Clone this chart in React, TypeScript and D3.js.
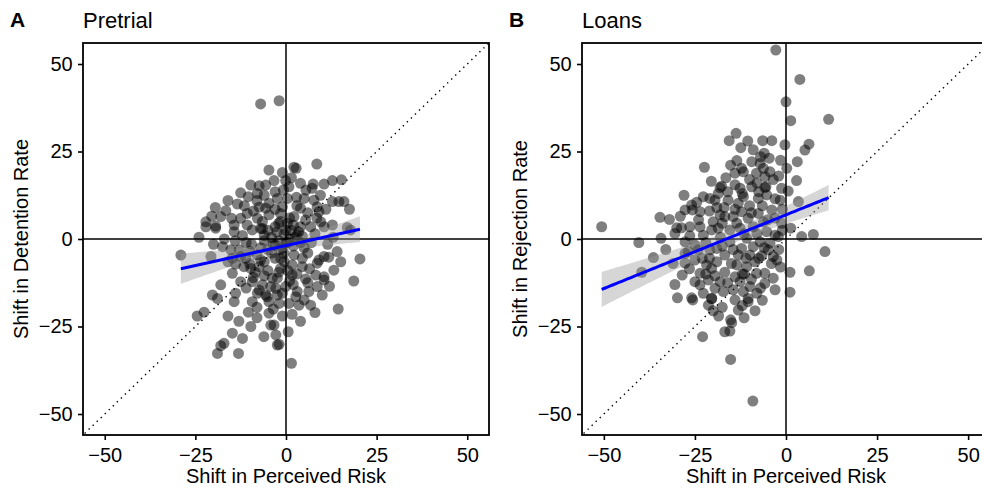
import React, { useEffect, useRef } from "react";
import * as d3 from "d3";

// shift in perceived risk (x) vs shift in decision rate (y)
const pretrialPoints: [number, number][] = [
  [-7.0, 38.6], [-1.9, 39.5],
  [-4.7, 19.7], [-3.3, 16.7], [-9.7, 15.4], [-7.4, 15.2], [-5.6, 15.4],
  [-12.5, 13.2], [-10.4, 12.1], [-7.9, 13.0], [-13.4, 10.0], [-16.6, 8.1], [-18.0, 6.4],
  [-22.1, 4.9], [-19.4, 3.7], [-15.0, 5.9], [-10.7, 7.3], [-12.5, 5.9], [-7.4, 9.1],
  [-4.7, 10.2], [-2.4, 11.6], [-5.6, 8.8], [-4.7, 6.9], [-7.9, 5.9], [-14.3, 4.0], [-10.7, 4.0],
  [-7, 3], [-5, 2.5], [-3, 3.5], [-6, 1], [-4, 0.5],
  [8.5, 21.4], [2.2, 20.5], [2.8, 20.2], [-0.1, 16.7], [4.0, 15.9], [0.8, 14.9], [7.5, 15.7],
  [10.5, 15.7], [12.8, 16.7], [15.3, 16.9], [7.2, 14.5], [-0.7, 14.0], [0.4, 11.6], [2.9, 11.9],
  [5.0, 11.6], [7.7, 11.1], [12.8, 10.7], [14.6, 10.7], [16.0, 10.7], [8.6, 9.2], [-1.0, 9.2],
  [4.0, 8.8], [9.1, 7.8], [-1.5, 7.3], [2.2, 6.4], [5.4, 5.4], [9.6, 4.9], [12.8, 4.0],
  [16.9, 3.3], [10.5, 3.5], [6.8, 3.5], [0.4, 4.5],
  [-1.5, 5], [1.5, 2.5], [-0.5, 1.5], [2.5, 0.5], [-2.5, 2.0], [0.5, -1], [3.5, 2.0],
  [-1, -2.5], [4.5, 0.8], [-3.5, -1.5],
  [-29.0, -4.6], [-20.7, -5.0], [-17.5, -2.2], [-15.2, -3.1], [-12.9, -3.1], [-14.8, -5.5],
  [-11.1, -5.5], [-13.9, -7.2], [-11.6, -7.9], [-9.7, -8.4], [-7.4, -7.9], [-14.8, -9.8],
  [-12.5, -12.2], [-9.3, -12.2], [-18.0, -13.1], [-13.9, -15.5], [-7.9, -15.5], [-5.2, -16.5],
  [-20.3, -16.0], [-18.9, -17.0], [-14.3, -17.9], [-9.3, -17.9], [-4.7, -17.9], [-22.6, -20.9],
  [-10.4, -20.9], [-4.7, -21.2], [-9.7, -25.0], [-4.2, -24.6], [-14.8, -26.9], [-12.0, -28.4],
  [-6.1, -27.9], [-17.1, -29.8], [-18.0, -30.5], [-18.9, -32.7], [-13.1, -32.7], [-2.4, -30.3],
  [-3.8, -11.2], [-4.2, -13.6], [-6.5, -13.1], [-2.8, -14.1], [-7.4, -14.6], [-5.6, -16.0],
  [-14.3, 2.1], [-9.3, 2.6], [-6.5, 3.0], [-22.1, 3.5], [-19.4, 3.1],
  [-10, -7], [-8.5, -9.5], [-6, -6.5], [-8, -4.5], [-5, -9], [-3, -5.5], [-9.5, -1.5],
  [-7, -2.5], [-11, -1], [-5, -3],
  [20.4, -5.7], [18.7, -12.0], [14.4, -20.0], [14.1, -3.6], [15.1, -6.5], [11.8, -5.2],
  [10.5, -5.0], [9.1, -6.0], [8.6, -6.9], [13.2, -8.9], [10.5, -10.8], [8.2, -10.3],
  [10.5, -11.7], [8.6, -13.6], [5.4, -11.4], [1.7, -10.3], [4.5, -7.9], [4.5, -5.5],
  [2.2, -4.6], [-1.5, -5.5], [-0.6, -4.1], [1.7, -7.4], [-1.5, -8.4], [-2.4, -11.2],
  [-0.1, -13.6], [3.1, -15.0], [6.3, -15.0], [2.7, -16.5], [5.0, -17.4], [6.8, -18.9],
  [3.6, -18.9], [0.8, -18.4], [-1.9, -18.4], [-2.4, -16.0], [1.7, -21.5], [-3.3, -24.6],
  [0.6, -26.5], [-2.8, -27.4], [-1.9, -30.1], [1.5, -35.5], [17.8, 2.6],
  [0, -1], [2, -2], [5, -2.5], [7, -1], [3, 1], [8, 1.5], [-0.5, -6.5], [1, -12],
  [6.5, -8.5], [11.5, -1.5], [-3, -1.7], [-1.5, -3],
  [-8, 11], [-6, 12.5], [-3, 13.5], [1.5, 17.5], [-1, 19], [5.5, 14], [3, 9.5], [6, 7.5],
  [-3, 8.5], [-6.5, 5], [-9, 8], [-11.5, 9.5], [-2, 4.5], [1, 6], [4, 3.5], [8.5, 6],
  [11, 8.5], [1, 0], [-2, -0.5], [4, -1], [6, -4], [-4, -4], [-7, -6], [-10, -3.5],
  [-12.5, -5], [-16, -6.5], [-17, 0], [-20, -1.5], [-2, -9.5], [0.5, -9], [3, -10],
  [6, -12.5], [-9, -11], [-6, -10.5], [-11, -14], [-1, -15.5], [2, -13], [-8, -19.5],
  [-16, -22], [-3.5, -20], [4, -23.5], [-13, -23.5], [-24.5, -22], [-8, -22.5], [-1, -22],
  [10, -16], [12, -13.5], [8, -21], [13, 0.5], [17.5, 8.5], [9.5, 12.5], [-16, 11],
  [-19.5, 9], [-24, 0.5], [-20.5, 6.5], [-12, 1], [-14, -0.5], [-6, -0.5], [0, 2.5], [2, 4],
];

const loanPoints: [number, number][] = [
  [-22.4, 20.5],
  [-2.8, 54.0], [3.8, 45.6], [0.0, 39.2], [1.3, 33.8], [11.7, 34.2], [-13.7, 30.2],
  [-15.6, 28.1], [-12.4, 26.1], [-6.4, 28.1], [-3.9, 28.1], [-0.3, 26.9], [6.3, 27.1],
  [5.2, 25.4], [-13.5, 22.4], [-15.2, 21.1], [-9.4, 22.1], [-7.0, 23.5], [-4.6, 23.1],
  [-7.1, 21.6], [-12.2, 20.2], [-14.0, 18.8], [-11.7, 19.2], [-8.1, 18.8], [-6.2, 20.2],
  [-4.4, 19.2], [-5.8, 17.8], [0.2, 20.2], [3.1, 22.1], [2.9, 16.7], [-17.7, 15.1],
  [-12.6, 14.5], [-5.5, 14.9], [-1.2, 14.5],
  [-50.6, 3.5], [-40.4, -1.0], [-34.3, 0.2], [-34.6, 6.2], [-32.0, 5.6], [-36.4, -5.3],
  [-39.6, -9.5], [-30.0, 3.2], [-30.5, 1.6], [-28.5, -10.3], [-29.8, -16.8], [-25.9, -16.8],
  [-22.7, -15.5], [-20.4, -17.0], [-27.7, -6.9], [-27.7, -4.1], [-25.0, -6.0], [-23.6, -9.8],
  [-25.0, -12.2], [-21.3, -11.7], [-23.6, -13.1], [-21.8, -7.4], [-25.9, 9.7], [-25.7, 8.3],
  [-23.6, 7.8], [-22.7, 12.1], [-20.9, 11.6], [-27.7, 8.3], [-26.4, 3.5], [-28.7, 3.2],
  [-23.6, 3.5], [-22.7, 1.1], [-26.4, 0.9], [-20.4, 2.6], [-27.7, -0.8], [-25.0, -1.7],
  [-20.9, -3.1], [-24.1, -3.1], [-26.8, -3.6],
  [10.7, -3.6], [1.1, -9.5], [6.4, -9.1], [1.1, -15.2], [4.3, 0.7], [7.5, 1.3], [1.3, 3.1],
  [3.4, 10.7], [0.6, 13.7], [-2.1, 0.7], [-1.2, 4.5], [-1.6, 11.1], [-3.9, 8.3], [-5.3, 12.6],
  [-7.6, 11.6], [-11.7, 12.1], [-15.9, 11.1], [-13.1, 10.2], [-18.6, 13.0], [-19.5, 11.1],
  [-18.1, 14.7], [-9.4, 14.9], [-5.8, 14.7], [-18.1, 6.9], [-16.8, 6.4], [-14.5, 6.4],
  [-12.2, 7.8], [-10.4, 5.9], [-7.6, 7.3], [-6.2, 4.9], [-9.0, 3.5], [-18.6, 3.1],
  [-15.4, 2.6], [-12.6, 3.1], [-5.3, 2.1], [-3.0, 1.1], [-10.8, 0.2], [-15.4, -0.8],
  [-7.1, -0.8], [-4.4, -1.2], [-9.0, -2.2], [-12.2, -2.7], [-4.9, -3.1], [-19.0, -2.7],
  [-16.8, -4.6], [-13.1, -4.6], [-9.9, -4.6], [-6.7, -4.8], [-20.4, -8.4], [-16.8, -9.5],
  [-13.5, -7.4], [-10.8, -7.9], [-14.0, -10.8], [-8.1, -9.8], [-5.8, -9.8], [-3.5, -11.2],
  [-5.8, -12.7], [-12.6, -12.2], [-9.9, -13.6], [-11.7, -15.0], [-18.1, -12.2], [-19.5, -14.1],
  [-17.2, -15.0], [-10.4, -17.0], [-20.4, -17.0], [-20.0, 4.9],
  [-25.6, -17.4], [-21.3, -18.9], [-14.0, -17.4], [-10.4, -17.9], [-13.1, -20.3],
  [-22.9, -27.9], [-15.2, -23.1], [-14.9, -23.9], [-16.8, -26.5], [-15.4, -26.3],
  [-15.2, -34.4], [-9.1, -46.3],
  [-17, 9], [-21, 8], [-14, 15.5], [-10, 9.5], [-8, 16], [-3, 6], [-1, 8.5], [-2.5, -6],
  [-1.5, -8], [-8.5, -6.5], [-22, -1], [-18, 0.5], [-12, -10], [-15, -7], [-6.5, 9.5],
  [-3.5, 17], [-23, -5.5], [-17.5, -19.5], [-8, -15.5], [-2, -3],
  [-28, 12.5], [-24.5, 10.5], [-19, 9], [-16, 13.5], [-10, 17], [-7.5, 13.5], [-3, 11.5],
  [-1.5, 22.5], [-9, 25.5], [-2, 18], [-20.5, 16.5], [-24, 5.5], [-17.5, 4.5], [-13.5, 4.5],
  [-11.5, 1.5], [-8, 1.5], [-6, -2.5], [-17.5, -2], [-21, -5.5], [-19, -6.5], [-14.5, -3],
  [-11, -5.5], [-7.5, -5.5], [-4, -7], [-11.5, -10], [-9.5, -11.5], [-16, -12.5], [-22, -10],
  [-26.5, -8.5], [-19.5, -10.5], [-14.5, -14.5], [-7, -14], [-3, -14.5], [-12, -19],
  [-8.5, -20.5], [-18.5, -22], [-20, -20.5], [-11.5, -22.5], [-6.5, -17.5], [-30.5, -13],
  [-33, -3], [-31, -7], [-29, 6.5], [-3.5, -5], [-1, 2.5], [-5, 5.5], [-9.5, 7.5], [-14, 8.5],
  [-12, 13], [-16.5, 17.5], [-6, 24.5], [-10.5, 28],
];

// linear fits as drawn: intercept, slope, mean x, se at mean, slope se
const pretrialFit = { a: -1.87, b: 0.229, xbar: -2, se0: 1.5, k: 0.15 };
const loanFit = { a: 6.9, b: 0.421, xbar: -13, se0: 2.0, k: 0.122 };

const ticks = [-50, -25, 0, 25, 50];
const tags = ["A", "B"];
const titles = ["Pretrial", "Loans"];
const yTitles = ["Shift in Detention Rate", "Shift in Rejection Rate"];
const xTitle = "Shift in Perceived Risk";

const FONT = "'Liberation Sans', Arial, Helvetica, sans-serif";

function drawPanel(svg: any, i: number, left: number, right: number, points: [number, number][], fit: any) {
  const top = 43, bottom = 435;
  const x = d3.scaleLinear().domain([-56, 56]).range([left, right]);
  const y = d3.scaleLinear().domain([-56, 56]).range([bottom, top]);

  const id = "clip" + i;
  svg.append("clipPath").attr("id", id)
    .append("rect").attr("x", left).attr("y", top)
    .attr("width", right - left).attr("height", bottom - top);

  const plot = svg.append("g").attr("clip-path", `url(#${id})`);

  plot.append("line")
    .attr("x1", x(0)).attr("x2", x(0)).attr("y1", top).attr("y2", bottom)
    .attr("stroke", "#000").attr("stroke-width", 1.5);
  plot.append("line")
    .attr("x1", left).attr("x2", right).attr("y1", y(0)).attr("y2", y(0))
    .attr("stroke", "#000").attr("stroke-width", 1.5);
  plot.append("line")
    .attr("x1", x(-60)).attr("y1", y(-60)).attr("x2", x(60)).attr("y2", y(60))
    .attr("stroke", "#000").attr("stroke-width", 1.4)
    .attr("stroke-dasharray", "1.4 4.2");

  plot.selectAll("circle.pt")
    .data(points)
    .enter().append("circle")
    .attr("class", "pt")
    .attr("cx", (d: any) => x(d[0]))
    .attr("cy", (d: any) => y(d[1]))
    .attr("r", 5.5)
    .attr("fill", "#000")
    .attr("fill-opacity", 0.5);

  const ext = d3.extent(points, (d) => d[0]) as [number, number];
  const xs = d3.range(80).map((j) => ext[0] + (ext[1] - ext[0]) * j / 79);
  const half = (v: number) => Math.sqrt(fit.se0 * fit.se0 + fit.k * fit.k * (v - fit.xbar) * (v - fit.xbar));
  const pred = (v: number) => fit.a + fit.b * v;

  plot.append("path")
    .datum(xs)
    .attr("d", d3.area<number>()
      .x((v) => x(v))
      .y0((v) => y(pred(v) - half(v)))
      .y1((v) => y(pred(v) + half(v))))
    .attr("fill", "#999")
    .attr("fill-opacity", 0.4);

  plot.append("path")
    .datum(xs)
    .attr("d", d3.line<number>().x((v) => x(v)).y((v) => y(pred(v))))
    .attr("fill", "none")
    .attr("stroke", "#0000ff")
    .attr("stroke-width", 3);

  svg.append("rect")
    .attr("x", left).attr("y", top)
    .attr("width", right - left).attr("height", bottom - top)
    .attr("fill", "none").attr("stroke", "#000").attr("stroke-width", 1.8);

  const xAxis = svg.append("g")
    .attr("transform", `translate(0,${bottom})`)
    .call(d3.axisBottom(x).tickValues(ticks).tickSize(5).tickPadding(7.5));
  const yAxis = svg.append("g")
    .attr("transform", `translate(${left},0)`)
    .call(d3.axisLeft(y).tickValues(ticks).tickSize(5).tickPadding(5.3));
  [xAxis, yAxis].forEach((ax) => {
    ax.select(".domain").remove();
    ax.selectAll("line").attr("stroke", "#000").attr("stroke-width", 1.6);
    ax.selectAll("text").attr("fill", "#000")
      .style("font-family", FONT).style("font-size", "20px");
  });

  svg.append("text")
    .attr("x", left - 73).attr("y", 27)
    .style("font-family", FONT).style("font-size", "21px").style("font-weight", "bold")
    .text(tags[i]);
  svg.append("text")
    .attr("x", left).attr("y", 28)
    .style("font-family", FONT).style("font-size", "22px")
    .text(titles[i]);

  svg.append("text")
    .attr("x", (left + right) / 2).attr("y", 483)
    .attr("text-anchor", "middle")
    .style("font-family", FONT).style("font-size", "20px")
    .text(xTitle);
  svg.append("text")
    .attr("transform", `translate(${left - 55},${(top + bottom) / 2}) rotate(-90)`)
    .attr("text-anchor", "middle")
    .style("font-family", FONT).style("font-size", "20px")
    .text(yTitles[i]);
}

export default function App() {
  const ref = useRef<SVGSVGElement>(null);

  useEffect(() => {
    document.body.style.margin = "0";
    const svg = d3.select(ref.current);
    svg.selectAll("*").remove();
    drawPanel(svg, 0, 83, 489, pretrialPoints, pretrialFit);
    drawPanel(svg, 1, 582, 990, loanPoints, loanFit);
  }, []);

  return (
    <svg ref={ref} width={982} height={488} style={{ display: "block", background: "#fff" }} />
  );
}
